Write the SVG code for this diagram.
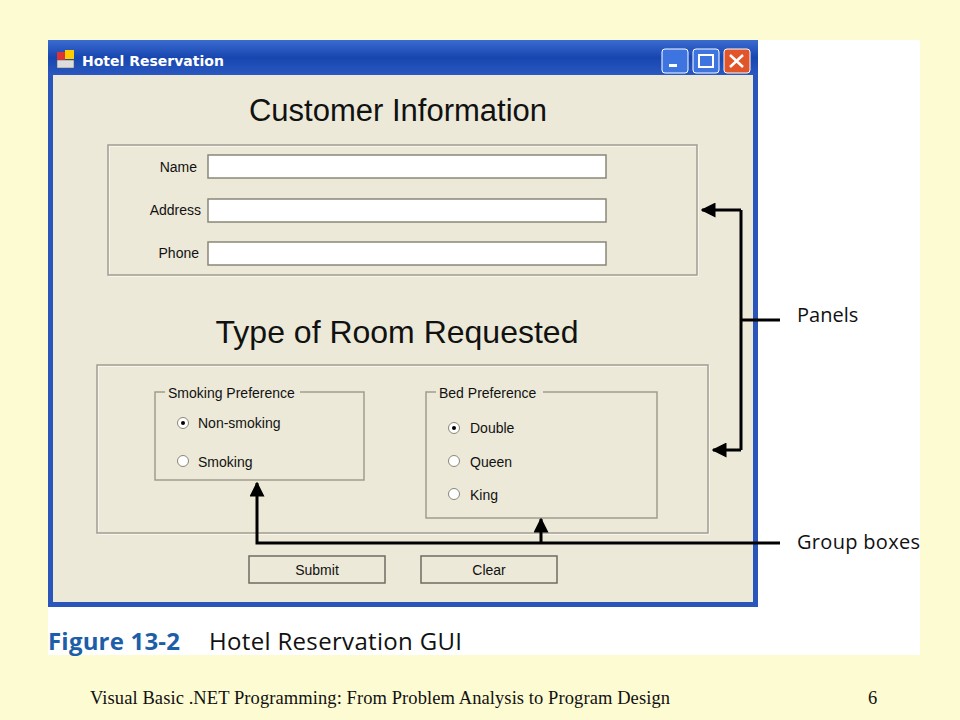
<svg xmlns="http://www.w3.org/2000/svg" width="960" height="720" viewBox="0 0 960 720">
<defs>
<style>
.ui{font-family:"Liberation Sans",Arial,sans-serif;font-size:14px;fill:#111}
.tf{fill:#fff;stroke:#8a8778;stroke-width:1.5}
.etch{fill:none;stroke:#a09d90;stroke-width:1.5}
.etch2{fill:none;stroke:#fff;stroke-width:1}
.rad{fill:#fff;stroke:#8a8778;stroke-width:1}
.btn{fill:#ece9d8;stroke:#6e6c62;stroke-width:1.5}
.ln{fill:none;stroke:#000;stroke-width:3}
.lbl{font-family:"Open Sans","Liberation Sans",sans-serif;font-size:20px;fill:#111}
</style>
<marker id="ah" viewBox="0 0 10 10" refX="9" refY="5" markerWidth="5" markerHeight="5" orient="auto-start-reverse"><path d="M0,0L10,5L0,10z" fill="#000"/></marker>
<linearGradient id="tb" x1="0" y1="0" x2="0" y2="1"><stop offset="0" stop-color="#3a6bd0"/><stop offset="0.5" stop-color="#1846b0"/><stop offset="1" stop-color="#2a58c0"/></linearGradient>
</defs>
<rect width="960" height="720" fill="#fdfbd2"/>
<rect x="48" y="40" width="872" height="615" fill="#fff"/>
<g id="window">
<rect x="48" y="40" width="710" height="567" fill="#2a56bc"/>
<rect x="48" y="40" width="710" height="35" fill="url(#tb)"/>
<rect x="53" y="75" width="700" height="527" fill="#ece9d8"/>
<rect x="57" y="52" width="8" height="8" fill="#d33"/><rect x="65" y="50" width="9" height="9" fill="#fc0"/><rect x="57" y="60" width="17" height="8" fill="#ddd" stroke="#555" stroke-width="0.5"/>
<text x="82" y="66" font-family="'DejaVu Sans',sans-serif" font-weight="bold" font-size="14" fill="#fff">Hotel Reservation</text>
<rect x="662" y="49" width="26" height="24" rx="3" fill="#3d74e0" stroke="#fff"/><rect x="669" y="64" width="8" height="3" fill="#fff"/>
<rect x="693" y="49" width="26" height="24" rx="3" fill="#3d74e0" stroke="#fff"/><rect x="699" y="55" width="14" height="12" fill="none" stroke="#fff" stroke-width="2"/>
<rect x="724" y="49" width="26" height="24" rx="3" fill="#e0552a" stroke="#fff"/><path d="M730,55l13,12M743,55l-13,12" stroke="#fff" stroke-width="2.5"/>
<text x="398" y="121" text-anchor="middle" font-family="'Liberation Sans',Arial,sans-serif" font-size="31" fill="#111">Customer Information</text>
<text x="397" y="343" text-anchor="middle" font-family="'Liberation Sans',Arial,sans-serif" font-size="32" fill="#111">Type of Room Requested</text>
</g>
<g id="panel1">
<rect x="109" y="146" width="589" height="130" class="etch2"/>
<rect x="108" y="145" width="589" height="130" class="etch"/>
<text x="197" y="172" text-anchor="end" class="ui">Name</text>
<text x="201" y="215" text-anchor="end" class="ui">Address</text>
<text x="199" y="258" text-anchor="end" class="ui">Phone</text>
<rect x="208" y="155" width="398" height="23" class="tf"/>
<rect x="208" y="199" width="398" height="23" class="tf"/>
<rect x="208" y="242" width="398" height="23" class="tf"/>
</g>
<g id="panel2">
<rect x="98" y="366" width="611" height="168" class="etch2"/>
<rect x="97" y="365" width="611" height="168" class="etch"/>
</g>
<g id="smoking">
<path d="M165,392H155V480H364V392H300" class="etch"/>
<text x="168" y="398" class="ui">Smoking Preference</text>
<circle cx="183" cy="423" r="5.5" class="rad"/><circle cx="183" cy="423" r="2" fill="#000"/>
<text x="198" y="428" class="ui" font-size="15">Non-smoking</text>
<circle cx="183" cy="461" r="5.5" class="rad"/>
<text x="198" y="467" class="ui" font-size="15">Smoking</text>
</g>
<g id="bed">
<path d="M436,392H426V518H657V392H543" class="etch"/>
<text x="439" y="398" class="ui">Bed Preference</text>
<circle cx="454" cy="428" r="5.5" class="rad"/><circle cx="454" cy="428" r="2" fill="#000"/>
<text x="470" y="433" class="ui" font-size="15">Double</text>
<circle cx="454" cy="461" r="5.5" class="rad"/>
<text x="470" y="467" class="ui" font-size="15">Queen</text>
<circle cx="454" cy="494" r="5.5" class="rad"/>
<text x="470" y="500" class="ui" font-size="15">King</text>
</g>
<g id="buttons">
<rect x="249" y="556" width="136" height="27" class="btn"/>
<text x="317" y="575" text-anchor="middle" class="ui">Submit</text>
<rect x="421" y="556" width="136" height="27" class="btn"/>
<text x="489" y="575" text-anchor="middle" class="ui">Clear</text>
</g>
<g id="connectors">
<path d="M741,210V450" class="ln"/>
<path d="M741,210H702" class="ln" marker-end="url(#ah)"/>
<path d="M741,450H713" class="ln" marker-end="url(#ah)"/>
<path d="M741,320H780" class="ln"/>
<path d="M780,543H257V483" class="ln" marker-end="url(#ah)"/>
<path d="M541,543V519" class="ln" marker-end="url(#ah)"/>
</g>
<g id="labels">
<text x="797" y="322" class="lbl">Panels</text>
<text x="797" y="549" class="lbl" textLength="123">Group boxes</text>
</g>
<g id="caption">
<text x="48" y="650" font-family="'Open Sans','Liberation Sans',sans-serif" font-weight="bold" font-size="24" fill="#1c5ea8" textLength="132">Figure 13-2</text>
<text x="209" y="650" font-family="'Open Sans','Liberation Sans',sans-serif" font-size="24" fill="#111" textLength="253">Hotel Reservation GUI</text>
</g>
<g id="footer">
<text x="90" y="704" font-family="'Liberation Serif','Times New Roman',serif" font-size="18.5" fill="#111" textLength="580">Visual Basic .NET Programming: From Problem Analysis to Program Design</text>
<text x="868" y="704" font-family="'Liberation Serif','Times New Roman',serif" font-size="18.5" fill="#111">6</text>
</g>
</svg>
